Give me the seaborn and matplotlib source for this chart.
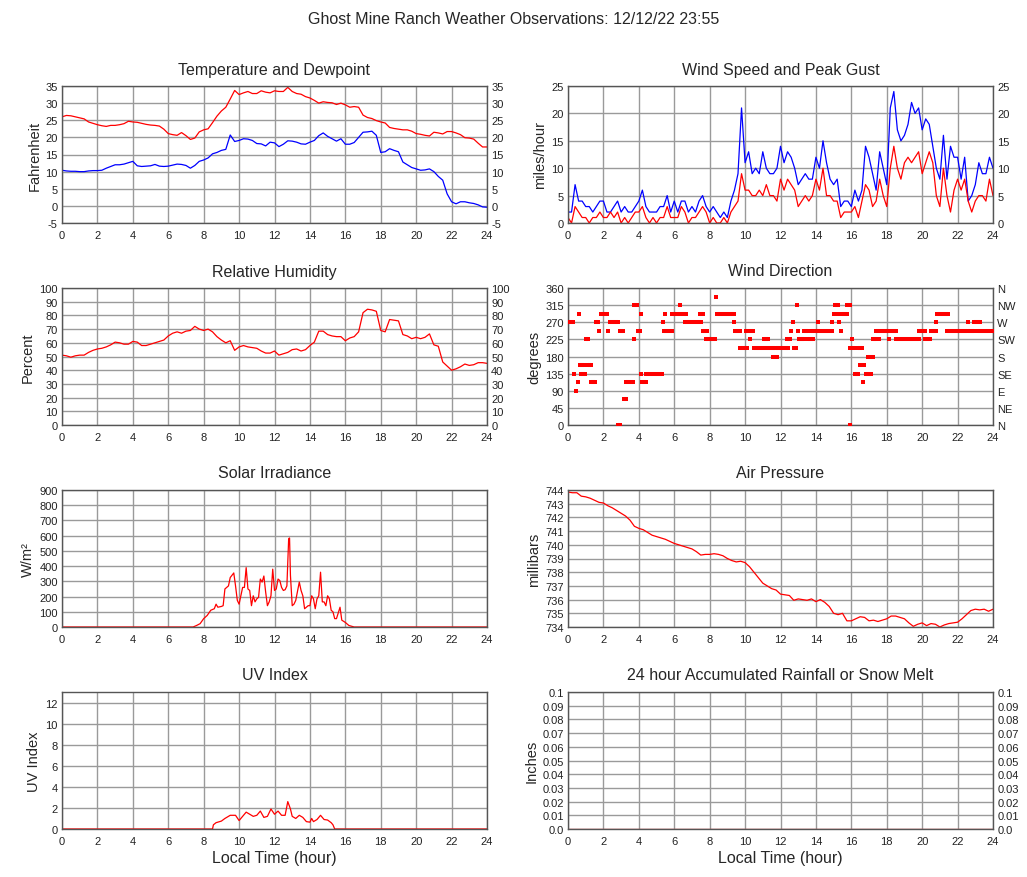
import numpy as np
import matplotlib
matplotlib.use("Agg")
import matplotlib.pyplot as plt
import seaborn as sns

# -----------------------------
# Data
# -----------------------------
hours_q = np.linspace(0, 24, 97)     # every 15 minutes
hours_w = np.linspace(0, 24, 121)    # every 12 minutes

temperature = [
    26.0, 26.4, 26.3, 26.0,
    25.7, 25.4, 24.5, 24.1,
    23.7, 23.4, 23.2, 23.5,
    23.5, 23.7, 24.0, 24.7,
    24.5, 24.4, 24.1, 23.8,
    23.6, 23.5, 23.3, 22.4,
    21.1, 20.8, 20.6, 21.4,
    20.5, 19.4, 19.8, 21.6,
    22.2, 22.5, 24.3, 26.2,
    27.7, 28.8, 31.2, 33.7,
    32.5, 33.0, 33.4, 32.8,
    32.8, 33.6, 33.2, 33.0,
    33.6, 33.4, 33.4, 34.6,
    33.4, 32.8, 32.6, 31.9,
    31.5, 30.8, 30.0, 30.4,
    30.2, 30.1, 29.6, 30.0,
    29.5, 28.8, 29.0, 28.8,
    26.5, 25.8, 25.5, 24.9,
    24.5, 24.2, 22.9, 22.6,
    22.4, 22.2, 22.2, 21.8,
    21.1, 20.9, 20.6, 20.4,
    21.5, 21.3, 21.0, 21.7,
    21.7, 21.3, 20.8, 19.9,
    19.8, 19.5, 18.3, 17.2,
    17.2,
]

dewpoint = [
    10.4, 10.2, 10.1, 10.1,
    10.0, 10.0, 10.2, 10.3,
    10.3, 10.4, 11.0, 11.5,
    12.0, 12.0, 12.2, 12.6,
    13.0, 11.7, 11.5, 11.6,
    11.7, 12.1, 11.6, 11.5,
    11.6, 11.9, 12.2, 12.1,
    11.8, 11.0, 11.8, 13.0,
    13.4, 14.0, 15.2, 15.6,
    16.2, 16.5, 20.7, 18.8,
    19.1, 19.6, 19.5, 19.1,
    18.2, 18.1, 17.5, 18.6,
    18.4, 17.3, 18.0, 19.0,
    18.9, 18.6, 18.1, 18.0,
    18.6, 19.1, 20.5, 21.3,
    20.3, 19.6, 18.9, 19.6,
    18.0, 18.0, 18.5, 20.0,
    21.5, 21.6, 21.8, 20.6,
    15.6, 15.8, 16.7, 16.2,
    15.8, 12.8, 12.0, 11.2,
    10.8, 10.4, 10.5, 10.8,
    10.0, 8.6, 7.5, 3.5,
    1.2, 0.6, 1.2, 1.2,
    0.9, 0.7, 0.3, -0.3,
    -0.4,
]

humidity = [
    51, 50.5, 49.5, 50.5,
    51, 51, 53, 54.5,
    55.5, 56, 57, 58.5,
    60.5, 60, 59, 59,
    61, 60.5, 58, 58,
    59, 60, 61, 62,
    65, 67, 68, 67,
    68.5, 69, 72, 70,
    69, 70, 68, 64.5,
    62, 60, 61.5, 54.5,
    57, 58, 57, 56.5,
    56, 54, 52.5, 52.5,
    54, 51, 52, 53,
    55, 55.5, 54, 55,
    58, 60.5, 68.5, 68.5,
    66, 65, 64.5, 64.5,
    61.5, 63.5, 64.5, 68,
    82, 84.5, 84, 83,
    69, 68, 77, 76.5,
    76, 66, 65, 63,
    64, 63, 64, 66.5,
    58.5, 57.5, 46, 43,
    40, 41, 42.5, 44.5,
    43.5, 44, 45.5, 45.5,
    45,
]

pressure = [
    743.85, 743.8, 743.8, 743.55,
    743.5, 743.4, 743.25, 743.1,
    743.05, 742.85, 742.7, 742.5,
    742.3, 742.1, 741.8, 741.35,
    741.2, 741.1, 740.9, 740.7,
    740.6, 740.5, 740.4, 740.25,
    740.1, 740.0, 739.9, 739.8,
    739.7, 739.5, 739.25, 739.3,
    739.3, 739.35, 739.3, 739.2,
    739.0, 738.85, 738.75, 738.8,
    738.7, 738.4, 738.0, 737.6,
    737.2, 737.0, 736.8, 736.7,
    736.4, 736.35, 736.3, 735.95,
    736.05, 736.0, 735.95, 736.05,
    735.85, 736.0, 735.8, 735.5,
    735.0, 734.9, 735.0, 734.45,
    734.45, 734.6, 734.75, 734.7,
    734.45, 734.5, 734.4, 734.5,
    734.6, 734.8, 734.8, 734.7,
    734.6, 734.3, 734.05, 734.2,
    734.3, 734.1, 734.25, 734.2,
    734.0, 734.15, 734.25, 734.3,
    734.35, 734.6, 734.9, 735.2,
    735.3, 735.25, 735.3, 735.15,
    735.3,
]

wind_gust = [
    2, 2, 7, 4, 4,
    3, 3, 2, 3, 4,
    4, 2, 2, 3, 4,
    2, 3, 2, 2, 3,
    4, 6, 3, 2, 2,
    2, 3, 3, 5, 2,
    4, 2, 4, 4, 2,
    3, 2, 4, 5, 3,
    2, 3, 2, 1, 2,
    1, 4, 6, 9, 21,
    11, 13, 9, 10, 9,
    13, 10, 9, 9, 10,
    14, 11, 13, 12, 10,
    7, 8, 9, 8, 8,
    12, 10, 15, 11, 8,
    7, 8, 3, 4, 4,
    3, 6, 4, 6, 14,
    12, 9, 6, 13, 10,
    7, 21, 24, 17, 15,
    16, 18, 22, 20, 21,
    17, 19, 18, 14, 10,
    8, 16, 8, 14, 12,
    12, 8, 12, 4, 5,
    7, 11, 9, 9, 12,
    10,
]

wind_speed = [
    1, 0, 3, 2, 1,
    1, 0, 1, 1, 2,
    1, 1, 2, 1, 2,
    0, 1, 0, 1, 2,
    2, 3, 1, 0, 1,
    0, 1, 1, 3, 1,
    1, 1, 3, 2, 0,
    1, 1, 2, 3, 2,
    0, 1, 0, 0, 1,
    0, 2, 3, 4, 9,
    6, 6, 5, 5, 6,
    5, 7, 5, 5, 4,
    8, 6, 8, 7, 6,
    3, 4, 5, 4, 5,
    8, 6, 10, 5, 5,
    4, 4, 1, 2, 2,
    2, 3, 1, 4, 7,
    6, 3, 4, 8, 5,
    3, 10, 14, 10, 8,
    11, 12, 11, 12, 13,
    9, 11, 13, 11, 5,
    3, 10, 5, 2, 6,
    8, 6, 8, 4, 2,
    4, 5, 5, 4, 8,
    5,
]

# wind direction: runs of identical readings (start hour, end hour, degrees)
wd_start = [0.0, 0.33, 0.45, 0.55, 0.6, 0.65, 0.75, 1.0, 1.15, 1.3, 1.6, 1.75, 1.85, 2.25,
            2.35, 2.8, 2.95, 3.15, 3.3, 3.7, 3.75, 3.95, 4.1, 4.15, 4.2, 4.4, 5.35, 5.4,
            5.5, 5.9, 6.35, 6.6, 7.45, 7.65, 7.8, 8.35, 8.4, 9.4, 9.45, 9.7, 10.05, 10.3,
            10.5, 11.05, 11.55, 11.75, 12.35, 12.6, 12.7, 12.75, 12.95, 13.0, 13.05, 13.3,
            13.55, 13.75, 14.1, 14.9, 15.0, 15.05, 15.25, 15.3, 15.4, 15.45, 15.75, 15.9,
            15.95, 16.05, 16.2, 16.35, 16.5, 16.65, 16.72, 16.8, 16.95, 17.25, 17.4, 17.55,
            18.1, 18.55, 19.8, 20.15, 20.5, 20.8, 20.85, 21.4, 22.6, 22.6, 22.9, 23.15]
wd_end = [0.3, 0.33, 0.45, 0.55, 0.6, 0.9, 0.98, 1.15, 1.3, 1.55, 1.7, 1.75, 2.2, 2.25,
          2.8, 2.95, 3.1, 3.3, 3.65, 3.7, 3.9, 4.05, 4.1, 4.15, 4.4, 5.3, 5.35, 5.9,
          5.5, 6.65, 6.35, 7.5, 7.65, 7.85, 8.3, 8.35, 9.4, 9.4, 9.7, 10.1, 10.45, 10.3,
          11.7, 11.3, 11.8, 12.4, 12.55, 12.6, 12.7, 12.9, 12.95, 13.0, 13.3, 13.55,
          13.85, 14.9, 14.1, 14.9, 15.0, 15.25, 15.25, 15.3, 15.4, 15.75, 15.9, 15.9,
          16.2, 16.05, 16.4, 16.6, 16.5, 16.65, 16.72, 17.1, 17.2, 17.4, 18.55, 17.55,
          18.1, 19.8, 20.15, 20.45, 20.8, 20.8, 21.45, 22.55, 22.6, 22.9, 23.25, 24.0]
wd_deg = [270, 135, 90, 112.5, 292.5, 157.5, 135, 225, 157.5, 112.5, 270, 247.5, 292.5, 247.5,
          270, 0, 247.5, 67.5, 112.5, 225, 315, 247.5, 292.5, 135, 112.5, 135, 270, 247.5,
          292.5, 292.5, 315, 270, 292.5, 247.5, 225, 337.5, 292.5, 270, 247.5, 202.5, 247.5, 225,
          202.5, 225, 180, 202.5, 225, 247.5, 270, 202.5, 315, 247.5, 225, 247.5,
          225, 247.5, 270, 270, 292.5, 315, 292.5, 270, 247.5, 292.5, 315, 0,
          202.5, 225, 135, 202.5, 157.5, 112.5, 157.5, 135, 180, 225, 247.5, 225,
          225, 225, 247.5, 225, 247.5, 270, 292.5, 247.5, 270, 247.5, 270, 247.5]

solar_hours = [0, 7.4, 7.6, 7.8, 8.0, 8.2, 8.4, 8.6, 8.7, 8.8, 9.0, 9.1, 9.2, 9.4, 9.5, 9.7,
               9.8, 9.9, 10.0, 10.2, 10.3, 10.4, 10.5, 10.6, 10.7, 10.8, 10.9, 11.0, 11.1,
               11.2, 11.3, 11.4, 11.5, 11.6, 11.7, 11.8, 11.9, 12.0, 12.1, 12.2, 12.3, 12.4,
               12.5, 12.6, 12.7, 12.8, 12.85, 12.9, 13.0, 13.1, 13.2, 13.4, 13.5, 13.6, 13.7,
               13.8, 13.9, 14.0, 14.1, 14.2, 14.3, 14.4, 14.5, 14.6, 14.7, 14.8, 14.9, 15.0,
               15.1, 15.2, 15.3, 15.4, 15.5, 15.7, 15.8, 16.0, 16.2, 16.5, 24]
solar_wm2 = [0, 0, 10, 22, 55, 76, 110, 120, 150, 130, 135, 140, 250, 270, 325, 355,
             270, 175, 150, 260, 260, 390, 250, 240, 140, 205, 165, 185, 195,
             315, 295, 335, 230, 140, 165, 205, 380, 240, 250, 315, 305, 260,
             240, 245, 270, 580, 585, 340, 140, 150, 175, 295, 240, 205, 120,
             130, 140, 140, 205, 185, 120, 185, 205, 360, 165, 165, 140, 205,
             185, 110, 100, 55, 55, 130, 45, 30, 10, 0, 0]

uv_hours = [0, 8.5, 8.55, 8.7, 9.0, 9.2, 9.5, 9.8, 10.0, 10.2, 10.4, 10.6, 10.8, 11.0,
            11.2, 11.4, 11.6, 11.8, 12.0, 12.2, 12.4, 12.6, 12.75, 12.9, 13.0, 13.2,
            13.4, 13.6, 13.8, 14.0, 14.1, 14.2, 14.4, 14.6, 14.8, 15.0, 15.2, 15.3, 15.4, 24]
uv_index = [0, 0, 0.4, 0.6, 0.75, 1.0, 1.3, 1.3, 0.8, 1.2, 1.6, 1.4, 1.2, 1.3,
            1.7, 1.1, 1.2, 1.9, 1.4, 1.7, 1.3, 1.3, 2.6, 1.9, 1.2, 1.0,
            1.3, 1.1, 0.7, 0.65, 1.0, 0.7, 0.9, 1.3, 0.9, 0.85, 0.6, 0.4, 0.0, 0]

rain_hours = [0, 24]
rain_inches = [0.0, 0.0]

compass_labels = ["N", "NE", "E", "SE", "S", "SW", "W", "NW", "N"]
rain_labels = ["0.0", "0.01", "0.02", "0.03", "0.04", "0.05", "0.06", "0.07", "0.08", "0.09", "0.1"]

RED = "#ff0000"
BLUE = "#0000ff"

# -----------------------------
# Figure / layout
# -----------------------------
sns.set_style("white")
plt.rcParams["font.family"] = ["Liberation Sans", "DejaVu Sans"]
plt.rcParams["axes.unicode_minus"] = False

fig = plt.figure(figsize=(10.27, 8.78), dpi=100)
FIG_W, FIG_H = 1027, 878
COL_X = [62, 568]
ROW_TOP = [87, 289, 491, 693]
AX_W, AX_H = 425, 137


def make_ax(col, row):
    x0 = COL_X[col] / FIG_W
    y0 = 1 - (ROW_TOP[row] + AX_H) / FIG_H
    return fig.add_axes([x0, y0, AX_W / FIG_W, AX_H / FIG_H])


def style(ax, title, ylabel, ylim, yticks, right=False, xlabel=""):
    ax.set_xlim(0, 24)
    ax.set_xticks(range(0, 25, 2))
    ax.set_ylim(*ylim)
    ax.set_yticks(yticks)
    ax.grid(True, color="#9a9a9a", linewidth=1)
    ax.set_axisbelow(True)
    for s in ax.spines.values():
        s.set_color("#555555")
        s.set_linewidth(1)
    ax.tick_params(axis="y", length=0, labelsize=8, pad=3, labelright=right, colors="#222222")
    ax.tick_params(axis="x", length=0, labelsize=8, pad=5, colors="#222222")
    ax.set_title(title, fontsize=11.5, pad=9)
    ax.set_ylabel(ylabel, fontsize=10.5, labelpad=3)
    ax.set_xlabel(xlabel, fontsize=11.5, labelpad=3)


def line(ax, x, y, color=RED):
    sns.lineplot(x=x, y=y, ax=ax, color=color, linewidth=0.9, estimator=None, sort=False)


# 1 Temperature and dewpoint
ax = make_ax(0, 0)
line(ax, hours_q, temperature, RED)
line(ax, hours_q, dewpoint, BLUE)
style(ax, "Temperature and Dewpoint", "Fahrenheit", (-5, 35), range(-5, 36, 5), right=True)

# 2 Wind speed and gust
ax = make_ax(1, 0)
line(ax, hours_w, wind_gust, BLUE)
line(ax, hours_w, wind_speed, RED)
style(ax, "Wind Speed and Peak Gust", "miles/hour", (0, 25), range(0, 26, 5), right=True)

# 3 Relative humidity
ax = make_ax(0, 1)
line(ax, hours_q, humidity, RED)
style(ax, "Relative Humidity", "Percent", (0, 100), range(0, 101, 10), right=True)

# 4 Wind direction
ax = make_ax(1, 1)
ax.hlines(wd_deg, wd_start, wd_end, color=RED, linewidth=2.9, zorder=3)
sns.scatterplot(x=wd_start + wd_end, y=wd_deg + wd_deg, ax=ax, color=RED, marker="s",
                s=9, linewidth=0, zorder=3)
style(ax, "Wind Direction", "degrees", (0, 360), range(0, 361, 45))
ax2 = ax.twinx()
ax2.set_ylim(0, 360)
ax2.set_yticks(range(0, 361, 45), compass_labels)
ax2.tick_params(length=0, labelsize=8, pad=3, colors="#222222")
for s in ax2.spines.values():
    s.set_visible(False)

# 5 Solar irradiance
ax = make_ax(0, 2)
line(ax, solar_hours, solar_wm2, RED)
style(ax, "Solar Irradiance", "W/m²", (0, 900), range(0, 901, 100))

# 6 Air pressure
ax = make_ax(1, 2)
line(ax, hours_q, pressure, RED)
style(ax, "Air Pressure", "millibars", (734, 744), range(734, 745, 1))

# 7 UV index
ax = make_ax(0, 3)
line(ax, uv_hours, uv_index, RED)
style(ax, "UV Index", "UV Index", (0, 13), range(0, 13, 2), xlabel="Local Time (hour)")

# 8 Rainfall
ax = make_ax(1, 3)
line(ax, rain_hours, rain_inches, RED)
style(ax, "24 hour Accumulated Rainfall or Snow Melt", "Inches", (0, 0.1),
      np.linspace(0, 0.1, 11), right=True, xlabel="Local Time (hour)")
ax.set_yticklabels(rain_labels)

fig.text(0.5, 1 - 19 / FIG_H, "Ghost Mine Ranch Weather Observations: 12/12/22 23:55",
         ha="center", va="center", fontsize=11.5)

fig.savefig("out.png", dpi=100, facecolor="white")
